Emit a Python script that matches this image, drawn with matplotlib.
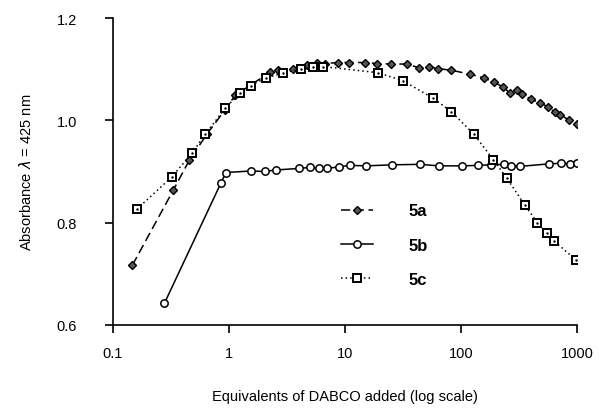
import matplotlib.pyplot as plt

plt.rcParams['font.family'] = ['Liberation Sans', 'DejaVu Sans']

# 5a (diamonds, dashed)
x_5a = [0.147, 0.33, 0.455, 0.65, 0.92, 1.13, 2.26, 2.63, 3.54, 4.73, 5.7, 6.72, 8.75, 10.9,
        14.9, 19.0, 24.8, 34.2, 43.1, 53.3, 63, 82.5, 120, 158, 192, 229, 264, 302, 338,
        401, 483, 566, 646, 713, 859, 994]
y_5a = [0.717, 0.863, 0.922, 0.974, 1.020, 1.049, 1.094, 1.098, 1.101, 1.108, 1.113, 1.111,
        1.113, 1.113, 1.113, 1.111, 1.110, 1.110, 1.103, 1.105, 1.101, 1.098, 1.090, 1.083,
        1.074, 1.066, 1.053, 1.059, 1.052, 1.041, 1.034, 1.026, 1.016, 1.010, 1.001, 0.992]

# 5b (circles, solid)
x_5b = [0.277, 0.85, 0.94, 1.55, 2.04, 2.54, 4.04, 5.0, 5.97, 6.95, 8.93, 11.0, 15.2, 25.3,
        44.3, 64.3, 103, 141, 180, 236, 268, 324, 577, 728, 871, 1000]
y_5b = [0.642, 0.877, 0.898, 0.901, 0.900, 0.903, 0.906, 0.908, 0.906, 0.906, 0.909, 0.912,
        0.911, 0.913, 0.914, 0.911, 0.911, 0.912, 0.913, 0.914, 0.910, 0.910, 0.915, 0.916,
        0.915, 0.916]

# 5c (squares, dotted)
x_5c = [0.16, 0.32, 0.48, 0.625, 0.93, 1.24, 1.54, 2.07, 2.9, 4.18, 5.33, 6.5, 19.4, 31.8,
        57.7, 82.5, 129, 190, 248, 356, 455, 548, 637, 979]
y_5c = [0.826, 0.889, 0.936, 0.973, 1.024, 1.053, 1.068, 1.083, 1.092, 1.101, 1.105, 1.105,
        1.093, 1.077, 1.043, 1.017, 0.973, 0.923, 0.887, 0.834, 0.800, 0.780, 0.764, 0.727]

fig = plt.figure(figsize=(6.03, 4.14), dpi=100)
ax = fig.add_axes([0.1874, 0.2126, 0.7695, 0.7415])

ax.plot(x_5a, y_5a, color='black', linestyle=(0, (6, 3)), linewidth=1.1,
        marker='D', markersize=3.6, markerfacecolor='#555555', markeredgecolor='black',
        markeredgewidth=1, label='5a')
ax.plot(x_5b, y_5b, color='black', linestyle='-', linewidth=1.1,
        marker='o', markersize=5.3, markerfacecolor='white', markeredgecolor='black',
        markeredgewidth=1.1, label='5b')
ax.plot(x_5c, y_5c, color='black', linestyle=(0, (1, 2)), linewidth=1.1,
        marker='s', markersize=5.3, markerfacecolor='white', markeredgecolor='black',
        markeredgewidth=1.4, label='5c')
ax.plot(x_5c, y_5c, linestyle='none', marker='.', markersize=1.5, color='black')

ax.set_xscale('log')
ax.set_xlim(0.1, 1000)
ax.set_ylim(0.6, 1.2)
ax.set_xticks([0.1, 1, 10, 100, 1000])
ax.set_xticklabels(['0.1', '1', '10', '100', '1000'])
ax.minorticks_off()
ax.set_yticks([0.6, 0.8, 1.0, 1.2])
ax.set_yticklabels(['0.6', '0.8', '1.0', '1.2'])

for s in ['top', 'right']:
    ax.spines[s].set_visible(False)
for s in ['left', 'bottom']:
    ax.spines[s].set_linewidth(1.2)
ax.tick_params(axis='both', labelsize=10.5, width=1.2, length=6, direction='out')
ax.tick_params(axis='x', pad=9)
ax.tick_params(axis='y', pad=20)

ax.set_xlabel('Equivalents of DABCO added (log scale)', fontsize=10.5, labelpad=21)
ax.set_ylabel(r'Absorbance $\lambda$ = 425 nm', fontsize=10.5, labelpad=16)

leg = ax.legend(loc='upper left', bbox_to_anchor=(0.46, 0.445), frameon=False,
                handlelength=1.9, labelspacing=1.15, handletextpad=2.1,
                prop={'weight': 'bold', 'size': 12})

fig.savefig('out.png', dpi=100)
